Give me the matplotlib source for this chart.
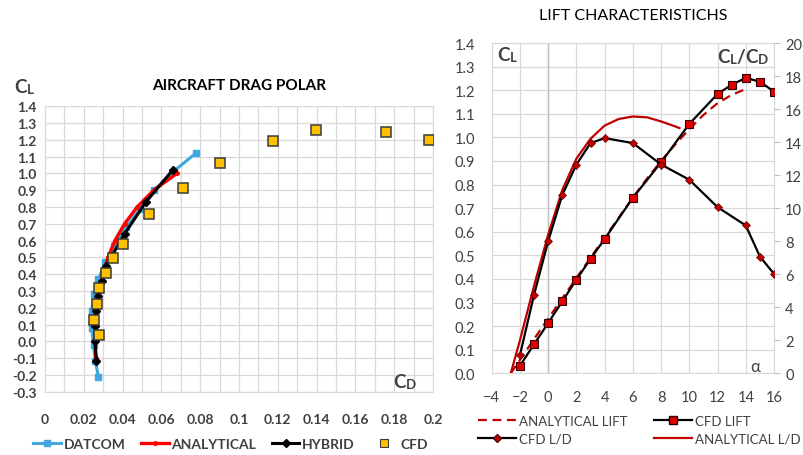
import numpy as np
import matplotlib
matplotlib.use("Agg")
from matplotlib import pyplot as plt
from matplotlib.lines import Line2D

plt.rcParams['font.family'] = ['Lato', 'DejaVu Sans']

# ---- left chart: aircraft drag polar ----
datcom_cd = [0.0275, 0.026, 0.025, 0.024, 0.024, 0.0253, 0.0275, 0.031, 0.0357, 0.0418, 0.049, 0.0563, 0.066, 0.0777]
datcom_cl = [-0.21, -0.12, -0.02, 0.08, 0.18, 0.28, 0.37, 0.47, 0.57, 0.68, 0.79, 0.90, 1.01, 1.12]

anal_cd = [0.0262, 0.0257, 0.0258, 0.0265, 0.0278, 0.0298, 0.0325, 0.036, 0.041, 0.0475, 0.056, 0.068]
anal_cl = [-0.1, 0.0, 0.1, 0.2, 0.3, 0.4, 0.5, 0.6, 0.7, 0.8, 0.9, 1.0]

hyb_cd = [0.0265, 0.0258, 0.026, 0.0265, 0.0275, 0.0295, 0.0315, 0.041, 0.052, 0.0658]
hyb_cl = [-0.12, 0.0, 0.09, 0.18, 0.27, 0.36, 0.45, 0.64, 0.83, 1.02]

cfd_cd = [0.028, 0.0254, 0.027, 0.028, 0.0314, 0.0349, 0.040, 0.0538, 0.071, 0.090, 0.1174, 0.1395, 0.1758, 0.1978]
cfd_cl = [0.04, 0.127, 0.222, 0.316, 0.405, 0.498, 0.578, 0.757, 0.912, 1.061, 1.192, 1.259, 1.247, 1.199]

# ---- right chart: lift characteristics ----
cfd_alpha = [-2, -1, 0, 1, 2, 3, 4, 6, 8, 10, 12, 13, 14, 15, 16]
cfd_lift = [0.032, 0.123, 0.213, 0.305, 0.397, 0.485, 0.569, 0.744, 0.894, 1.057, 1.184, 1.223, 1.252, 1.236, 1.194]

ld_alpha = [-2, -1, 0, 1, 2, 3, 4, 6, 8, 10, 12, 14, 15, 16]
cfd_ld = [1.1, 4.76, 8.0, 10.8, 12.64, 13.94, 14.24, 13.94, 12.64, 11.72, 10.06, 8.95, 7.07, 6.02]

al_alpha = [-2.65, -2, -1, 0, 1, 2, 3, 4, 5, 6, 7, 8, 9, 10, 11, 12, 13, 14]
anal_lift = [0.0, 0.057, 0.145, 0.232, 0.318, 0.404, 0.49, 0.575, 0.66, 0.745, 0.825, 0.90, 0.97, 1.035, 1.095, 1.145, 1.18, 1.205]

ald_alpha = [-2.65, -2, -1, 0, 1, 2, 3, 4, 5, 6, 7, 8, 9, 9.3]
anal_ld = [0.0, 2.0, 5.3, 8.4, 11.1, 13.0, 14.2, 15.0, 15.4, 15.55, 15.5, 15.25, 14.95, 14.85]

GRID = '#d9d9d9'
TXT = '#404040'

fig = plt.figure(figsize=(8.04, 4.56), dpi=100)


def chain(x, y, parts):
    # text pieces (text, size) placed one after another, bottoms aligned
    t = fig.text(x, y, parts[0][0], fontsize=parts[0][1], fontweight='bold', color=TXT, va='bottom')
    for s, size in parts[1:]:
        t = fig.add_artist(plt.Annotation(s, xy=(1, 0), xycoords=t, va='bottom', ha='left',
                                          fontsize=size, fontweight='bold', color=TXT))


# left axes
ax = fig.add_axes([0.056, 0.1388, 0.4826, 0.626])
ax.plot(datcom_cd, datcom_cl, color='#41a8df', lw=2.2, marker='s', ms=4, label='DATCOM', zorder=3)
ax.plot(anal_cd, anal_cl, color='#ff0000', lw=2.4, marker='o', ms=2.5, label='ANALYTICAL', zorder=4)
ax.plot(hyb_cd, hyb_cl, color='black', lw=2.2, marker='D', ms=4, label='HYBRID', zorder=5)
ax.plot(cfd_cd, cfd_cl, ls='none', marker='s', ms=6.8, mfc='#ffc000', mec='#3a3a3a', mew=1.1, label='CFD', zorder=6)
ax.set_xlim(0, 0.2)
ax.set_ylim(-0.3, 1.4)
ax.set_xticks(np.arange(0, 0.201, 0.02))
ax.set_xticks(np.arange(0, 0.201, 0.01), minor=True)
ax.set_yticks(np.arange(-0.3, 1.401, 0.1))
ax.set_xticklabels(['0', '0.02', '0.04', '0.06', '0.08', '0.1', '0.12', '0.14', '0.16', '0.18', '0.2'])
ax.set_yticklabels(['%.1f' % v for v in np.arange(-0.3, 1.401, 0.1)])
ax.grid(True, which='both', color=GRID, lw=0.9)
ax.set_axisbelow(True)
ax.tick_params(which='both', length=0, labelsize=10, colors=TXT)
ax.tick_params(axis='x', pad=15)
ax.tick_params(axis='y', pad=6)
for lab in ax.get_xticklabels() + ax.get_yticklabels():
    lab.set_fontweight('bold')
for s in ax.spines.values():
    s.set_color(GRID)
ax.text(0.5, 1.075, 'AIRCRAFT DRAG POLAR', transform=ax.transAxes, ha='center', va='center',
        fontsize=11, fontweight='bold', color='black')
chain(14/804, 1-96/456, [('C', 13.5), ('L', 9.5)])
chain(393/804, 1-391/456, [('C', 13.5), ('D', 9.5)])
h, l = ax.get_legend_handles_labels()
h[3] = Line2D([], [], ls='none', marker='s', ms=5.5, mfc='#ffc000', mec='#3a3a3a', mew=0.8)
fig.legend(h, l, loc='center', bbox_to_anchor=(0.287, 0.025), ncol=4, frameon=False,
           prop={'weight': 'bold', 'size': 10}, handlelength=2.0, columnspacing=1.1,
           handletextpad=0.2, labelcolor=TXT)

# right axes
bx = fig.add_axes([0.6116, 0.1792, 0.3511, 0.7243])
bx.plot(al_alpha, anal_lift, color='#c00000', lw=1.6, ls=(0, (4, 2.5)), zorder=3)
bx.plot(cfd_alpha, cfd_lift, color='black', lw=1.6, marker='s', ms=5.8, mfc='#e00000', mec='#300000', mew=0.8, zorder=4)
bx.axvline(0, color='#bfbfbf', lw=1.0, zorder=1)
bx.set_xlim(-4, 16)
bx.set_ylim(0, 1.4)
bx.set_xticks(np.arange(-4, 16.1, 2))
bx.set_yticks(np.arange(0, 1.401, 0.1))
bx.set_yticklabels(['%.1f' % v for v in np.arange(0, 1.401, 0.1)])
bx.grid(True, color=GRID, lw=0.9)
bx.set_axisbelow(True)
bx.tick_params(length=0, labelsize=10.5, colors=TXT)
bx.tick_params(axis='x', pad=12)
bx.tick_params(axis='y', pad=12)
for s in bx.spines.values():
    s.set_color(GRID)

cx = bx.twinx()
cx.plot(ald_alpha, anal_ld, color='#c00000', lw=1.6, zorder=3)
cx.plot(ld_alpha, cfd_ld, color='black', lw=1.6, marker='D', ms=4.5, mfc='#c00000', mec='#600000', mew=0.5, zorder=4)
cx.set_ylim(0, 20)
cx.set_yticks(np.arange(0, 20.1, 2))
cx.tick_params(axis='y', length=4, width=0.8, color='#bfbfbf', labelsize=10.5, labelcolor=TXT, pad=4)
for s in cx.spines.values():
    s.set_visible(False)

bx.text(0.5, 1.085, 'LIFT CHARACTERISTICHS', transform=bx.transAxes, ha='center', va='center',
        fontsize=11.5, color='black')
chain(497/804, 1-64/456, [('C', 13.5), ('L', 9.5)])
chain(717/804, 1-66/456, [('C', 13.5), ('L', 9.5), ('/', 13.5), ('C', 13.5), ('D', 9.5)])
fig.text(750/804, 1-367/456, 'α', fontsize=12, color=TXT, va='center')

leg_h = [Line2D([], [], color='#c00000', lw=1.6, ls=(0, (4, 2.5))),
         Line2D([], [], color='black', lw=1.6, marker='D', ms=4.5, mfc='#c00000', mec='#600000'),
         Line2D([], [], color='black', lw=1.6, marker='s', ms=5.8, mfc='#e00000', mec='#300000'),
         Line2D([], [], color='#c00000', lw=1.6)]
leg_l = ['ANALYTICAL LIFT', 'CFD L/D', 'CFD LIFT', 'ANALYTICAL L/D']
fig.legend(leg_h, leg_l, loc='center', bbox_to_anchor=(0.795, 0.055), ncol=2, frameon=False,
           prop={'size': 9.5}, handlelength=2.9, columnspacing=2.0, handletextpad=0.2,
           labelspacing=0.45, labelcolor=TXT)

fig.savefig('out.png', dpi=100)
